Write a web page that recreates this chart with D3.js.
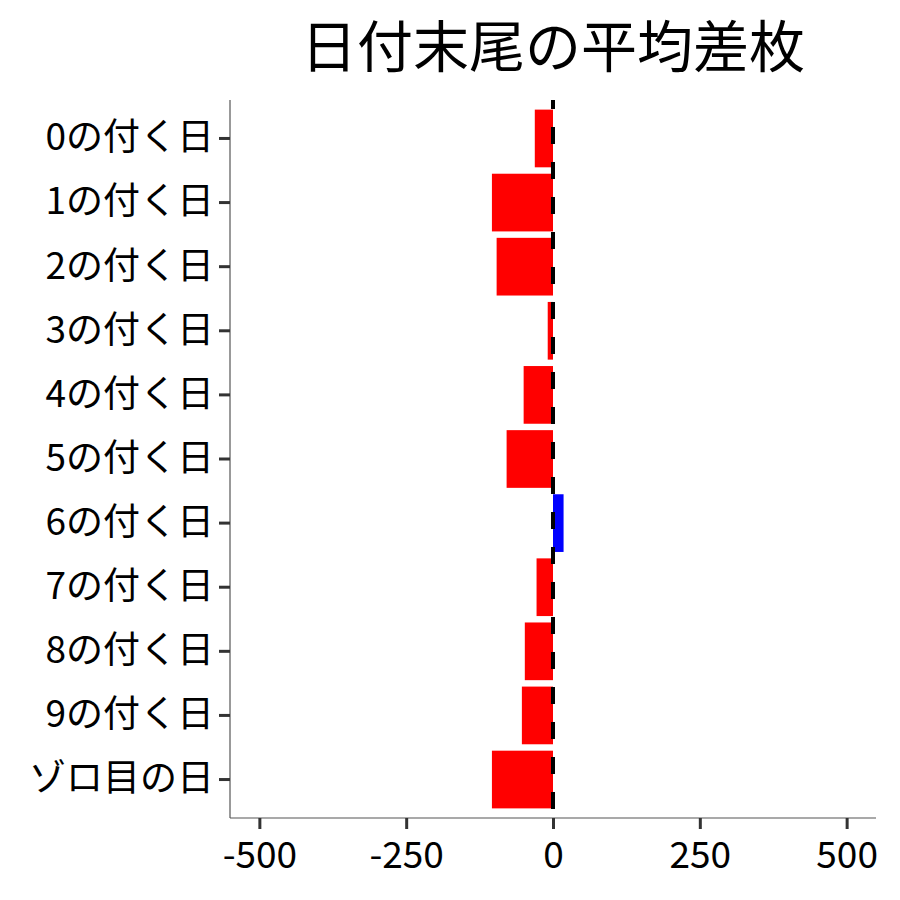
<!DOCTYPE html>
<head>
<meta charset="utf-8">
<title>日付末尾の平均差枚</title>
<style>
  body { margin: 0; background: #fff; }
  text { font-family: "Noto Sans CJK JP", "Noto Sans", sans-serif; }
</style>
</head>
<body>
<script src="https://d3js.org/d3.v7.min.js"></script>
<script>
// data
let categories = ["0の付く日","1の付く日","2の付く日","3の付く日","4の付く日","5の付く日",
                  "6の付く日","7の付く日","8の付く日","9の付く日","ゾロ目の日"];
let values = [-31, -104, -96, -9, -50, -79, 18, -28, -48, -53, -104];
let xTicks = [-500, -250, 0, 250, 500];

let width = 900;
let height = 900;
let mLeft = 230, mRight = 876, mTop = 100, mBottom = 818;

let svg = d3.select("body").append("svg")
  .attr("width", width)
  .attr("height", height);

let x = d3.scaleLinear()
  .domain([-550, 550])
  .range([mLeft, mRight]);

// ggplot style discrete axis: 0.6 units of padding on each side
let y = d3.scaleBand()
  .domain(categories)
  .range([mTop, mBottom])
  .paddingInner(0.1)
  .paddingOuter(0.15);

// title
svg.append("text")
  .attr("x", (mLeft + mRight) / 2)
  .attr("y", 67)
  .attr("text-anchor", "middle")
  .style("font-size", "56px")
  .attr("fill", "#000")
  .text("日付末尾の平均差枚");

// bars
svg.selectAll(".bar")
  .data(categories)
  .join("rect")
  .attr("class", "bar")
  .attr("x", (d, i) => x(Math.min(0, values[i])))
  .attr("width", (d, i) => Math.abs(x(values[i]) - x(0)))
  .attr("y", d => y(d))
  .attr("height", y.bandwidth())
  .attr("fill", (d, i) => values[i] < 0 ? "#ff0000" : "#0000ff");

// dashed zero line
svg.append("line")
  .attr("x1", x(0)).attr("x2", x(0))
  .attr("y1", mTop).attr("y2", mBottom)
  .attr("stroke", "#000")
  .attr("stroke-width", 4)
  .attr("stroke-dasharray", "17,18")
  .attr("stroke-dashoffset", 8);

// x axis
let xAxis = svg.append("g")
  .attr("transform", `translate(0,${mBottom})`)
  .call(d3.axisBottom(x).tickValues(xTicks).tickFormat(d => String(d))
    .tickSize(11).tickPadding(13).tickSizeOuter(0));

// y axis
let yAxis = svg.append("g")
  .attr("transform", `translate(${mLeft},0)`)
  .call(d3.axisLeft(y).tickSize(11).tickPadding(5).tickSizeOuter(0));

[xAxis, yAxis].forEach(function (g) {
  g.select(".domain").attr("stroke", "#555").attr("stroke-width", 1.2);
  g.selectAll(".tick line").attr("stroke", "#333").attr("stroke-width", 3);
  g.selectAll(".tick text")
    .style("font-size", "37px")
    .style("font-family", "'Noto Sans CJK JP', 'Noto Sans', sans-serif")
    .attr("fill", "#000");
});

yAxis.select(".domain").attr("d", `M0,${mTop}V${mBottom}`);
xAxis.select(".domain").attr("d", `M${mLeft},0H${mRight}`);
</script>
</body>
